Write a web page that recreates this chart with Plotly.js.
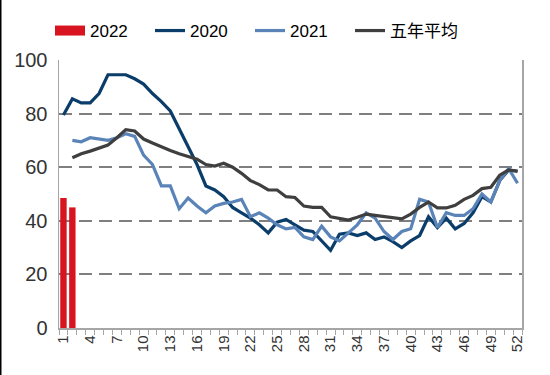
<!DOCTYPE html>
<html>
<head>
<meta charset="utf-8">
<script src="https://cdn.plot.ly/plotly-3.0.1.min.js"></script>
<style>
html,body{margin:0;padding:0;background:#fff;}
#chart{width:550px;height:375px;}
</style>
</head>
<body>
<div id="chart"></div>
<script>
const weeks = Array.from({length: 52}, (_, i) => i + 1);
const tickWeeks = [1,4,7,10,13,16,19,22,25,28,31,34,37,40,43,46,49,52];
const seriesNames = ['2022', '2020', '2021', '五年平均'];

const weeks2022 = [1, 2];
const y2022 = [48.5, 45];

const y2020 = [79.5, 85.5, 84, 84, 87.5, 94.5, 94.5, 94.5, 93, 91, 87.5, 84.5, 81, 74.5, 67.5, 61, 53, 51.5, 49, 45, 43, 41, 38.5, 35.5, 39.5, 40.5, 38.5, 36.5, 36, 32.5, 29, 35, 35.5, 34.5, 35.5, 33, 34, 32.2, 30, 32.5, 34.5, 41.5, 37.5, 41, 37, 39, 43, 49, 47, 55, 59, 58.5];

const y2021 = [null, 70, 69.5, 71, 70.5, 70, 71, 72.5, 71.5, 64.5, 61, 53, 53, 44.5, 48.5, 45.5, 43, 45.5, 46.5, 47, 48, 41.5, 43, 41, 38.5, 37, 37.5, 34, 33, 38, 34, 32.5, 35.5, 38.5, 43, 41, 36, 33, 36, 37, 48, 47, 37.5, 43, 42, 42, 44.5, 50, 47, 55, 59.5, 54];

const yAvg = [null, 63.5, 65, 66, 67, 68.3, 71, 74, 73.5, 70.5, 69, 67.5, 66.2, 65, 64, 63, 61, 60.4, 61.5, 60, 57.7, 55, 53.5, 51.5, 51.5, 49, 48.7, 45.5, 45, 45, 41.5, 41, 40.3, 41.3, 42.5, 42, 41.5, 41, 40.7, 42.5, 45, 47, 44.8, 44.8, 45.8, 48, 49.5, 52, 52.5, 57, 59, 58.5];

const ML = 59, MR = 28, MT = 60, MB = 47;
const PW = 550 - ML - MR, PH = 375 - MT - MB;

const traces = [
  {type: 'bar', x: weeks2022, y: y2022, name: seriesNames[0], width: 0.72,
   marker: {color: '#d7141f'}, showlegend: false, legendgroup: 'g2022'},
  // legend-only entry giving the wide red swatch of the original legend
  {type: 'scatter', mode: 'lines', x: [null], y: [null], name: seriesNames[0],
   line: {color: '#d7141f', width: 12}, legendgroup: 'g2022', hoverinfo: 'skip'},
  {type: 'scatter', mode: 'lines', x: weeks, y: y2020, name: seriesNames[1],
   line: {color: '#0b3d6b', width: 3.2}, connectgaps: false},
  {type: 'scatter', mode: 'lines', x: weeks, y: y2021, name: seriesNames[2],
   line: {color: '#5a84b8', width: 3.2}, connectgaps: false},
  {type: 'scatter', mode: 'lines', x: weeks, y: yAvg, name: seriesNames[3],
   line: {color: '#3f3f3f', width: 3.2}, connectgaps: false},
  // empty trailing legend slot so the last label is not clipped
  {type: 'scatter', mode: 'lines', x: [null], y: [null], name: '\u00a0',
   line: {color: 'rgba(0,0,0,0)', width: 0}, hoverinfo: 'skip'}
];

const layout = {
  width: 550, height: 375,
  margin: {l: ML, r: MR, t: MT, b: MB, pad: 0},
  paper_bgcolor: '#ffffff', plot_bgcolor: '#ffffff',
  font: {family: 'Liberation Sans, Arial, sans-serif', color: '#333333', size: 16},
  showlegend: true,
  legend: {orientation: 'h', x: -0.005, xanchor: 'left', y: 1 + 47 / PH, yanchor: 'top',
           bgcolor: 'rgba(0,0,0,0)',
           font: {size: 17, color: '#000000', family: 'Liberation Sans, Noto Sans CJK SC, sans-serif'},
           entrywidth: 55, entrywidthmode: 'pixels', itemwidth: 30, traceorder: 'normal'},
  xaxis: {
    range: [0.5, 52.5], tickmode: 'array', tickvals: tickWeeks, ticktext: tickWeeks.map(String),
    tickangle: -90, ticks: '', tickfont: {size: 15, color: '#333333'},
    showgrid: false, zeroline: false, showline: true, linecolor: '#a6a6a6', linewidth: 1.5,
    minor: {tickmode: 'linear', tick0: 0.5, dtick: 1, ticks: 'outside', ticklen: 5, tickcolor: '#a6a6a6', tickwidth: 1, showgrid: false},
    fixedrange: true
  },
  yaxis: {
    range: [0, 100], tickvals: [0, 20, 40, 60, 80, 100], ticks: '',
    tickfont: {size: 20, color: '#333333'},
    showgrid: true, gridcolor: '#7f7f7f', gridwidth: 2, griddash: '13px,7px',
    zeroline: false, showline: true, linecolor: '#a6a6a6', linewidth: 1.5, mirror: true,
    ticklabelstandoff: 6, fixedrange: true
  },
  shapes: [
    {type: 'line', xref: 'paper', yref: 'paper',
     x0: -(ML - 0.5) / PW, x1: -(ML - 0.5) / PW, y0: -MB / PH, y1: 1 + MT / PH,
     line: {color: '#000000', width: 2}}
  ],
  bargap: 0.25
};

Plotly.newPlot('chart', traces, layout, {displayModeBar: false, staticPlot: true});
</script>
</body>
</html>
